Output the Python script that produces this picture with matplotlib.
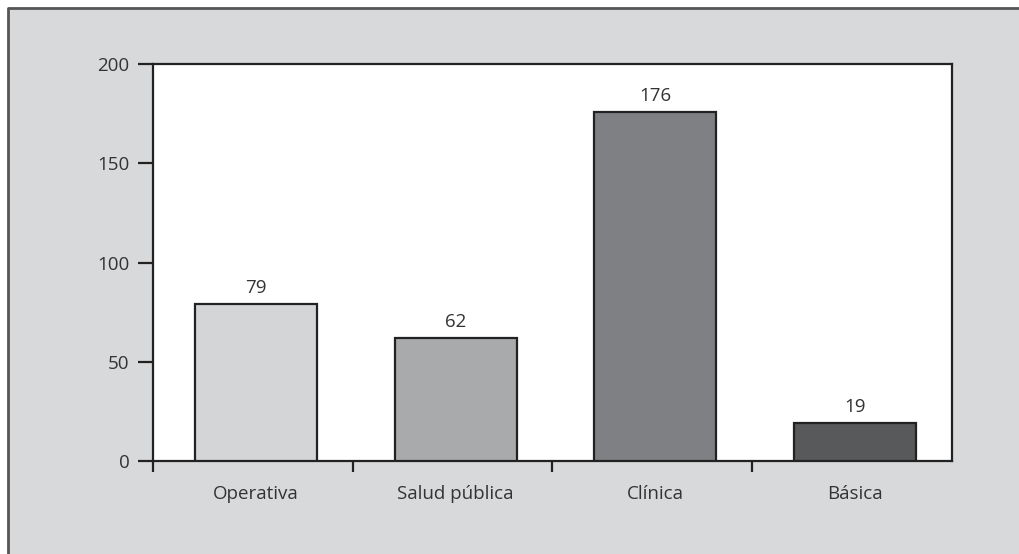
import numpy as np
import matplotlib
matplotlib.use("Agg")
import matplotlib.pyplot as plt
from matplotlib.patches import Rectangle
from matplotlib.lines import Line2D

categories = ["Operativa", "Salud pública", "Clínica", "Básica"]
values = [79, 62, 176, 19]
bar_colors = ["#d4d5d7", "#a9aaac", "#7f8083", "#58595b"]

plt.rcParams["font.family"] = ["Open Sans", "DejaVu Sans"]
TXT = "#333333"
FS = 13.5

fig = plt.figure(figsize=(10.2, 5.54), dpi=100, facecolor="white")

# gray panel behind the chart, framed only on top/left
x0, y1 = 8 / 1020, 1 - 8 / 554
fig.patches.append(Rectangle((x0, 0), 1 - x0, y1, transform=fig.transFigure,
                             facecolor="#d8d9db", edgecolor="none", zorder=-2))
fig.lines.append(Line2D([x0, x0, 1], [0, y1, y1], transform=fig.transFigure,
                        color="#555555", linewidth=2, zorder=-1))

ax = fig.add_axes([153 / 1020, 1 - 461 / 554, 799 / 1020, 397 / 554])
ax.set_zorder(2)
ax.set_facecolor("white")

x = np.arange(len(categories)) + 0.515
ax.bar(x, values, width=0.61, color=bar_colors, edgecolor="#222222",
       linewidth=1.6, zorder=3)
for xi, v in zip(x, values):
    ax.annotate(f"{v}", (xi, v), xytext=(0, 5), textcoords="offset points",
                ha="center", va="bottom", fontsize=FS, color=TXT)

ax.set_xlim(0, 4)
ax.set_ylim(0, 200)
ax.set_yticks([0, 50, 100, 150, 200])
ax.set_xticks([0, 1, 2, 3])
ax.set_xticklabels([])
ax.set_xticks(x, minor=True)
ax.set_xticklabels(categories, minor=True)
ax.tick_params(axis="x", which="minor", length=0, pad=17, labelsize=FS,
               labelcolor=TXT)
ax.tick_params(axis="x", which="major", length=8, width=1.6, direction="out",
               color="#222222")
ax.tick_params(axis="y", length=11, width=1.6, direction="out", pad=6,
               labelsize=FS, labelcolor=TXT, color="#222222")
for s in ax.spines.values():
    s.set_linewidth(1.6)
    s.set_color("#222222")

fig.savefig("out.png", dpi=100, facecolor=fig.get_facecolor())
